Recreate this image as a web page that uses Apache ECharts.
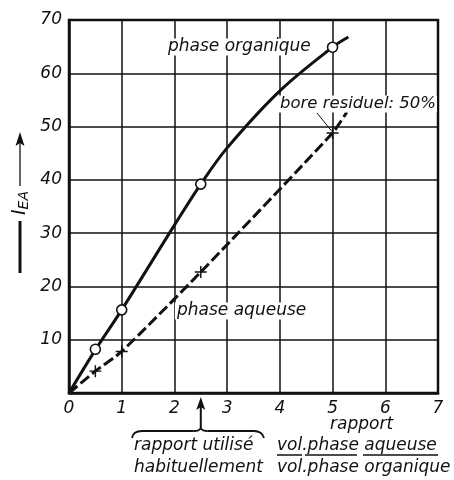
<!DOCTYPE html>
<html><head><meta charset="utf-8">
<script src="https://cdn.jsdelivr.net/npm/echarts@6/dist/echarts.min.js"></script>
<style>html,body{margin:0;padding:0;background:#fff}#c{width:454px;height:480px}</style>
</head><body><div id="c"></div>
<script>
// Data
const xTicks = [0, 1, 2, 3, 4, 5, 6, 7];
const yTicks = [0, 10, 20, 30, 40, 50, 60, 70];
const organiqueCurve = [[0, 0], [0.5, 8.1], [1, 15.6], [2, 31.5], [2.5, 39.2], [3, 46], [4, 56.7], [5, 64.9], [5.3, 66.8]];
const organiquePoints = [[0.5, 8.2], [1, 15.6], [2.5, 39.2], [5, 64.9]];
const aqueuseCurve = [[0, 0], [0.5, 4.1], [1, 7.8], [2.5, 22.7], [5, 48.8], [5.27, 52.7]];
const aqueusePoints = [[0.5, 4.1], [1, 7.8], [2.5, 22.7], [5, 48.8]];
const usualRatio = 2.5;

const FONT = "'DejaVu Sans', sans-serif";
const chart = echarts.init(document.getElementById('c'), null, {renderer: 'canvas'});
const txt = (extra) => Object.assign({fontFamily: FONT, fontStyle: 'italic', fontSize: 17, fill: '#111'}, extra);

chart.setOption({
  animation: false,
  backgroundColor: '#fff',
  grid: {left: 69, top: 20, right: 16, bottom: 87, show: true, borderColor: '#111', borderWidth: 2.5, backgroundColor: 'transparent'},
  xAxis: {
    type: 'value', min: xTicks[0], max: xTicks[xTicks.length - 1], interval: 1,
    axisLine: {show: true, lineStyle: {color: '#111', width: 2.5}},
    axisTick: {show: false},
    splitLine: {show: true, lineStyle: {color: '#111', width: 1.5}},
    axisLabel: {color: '#111', fontFamily: FONT, fontStyle: 'italic', fontSize: 17, margin: 7,
      formatter: v => xTicks.includes(v) ? String(v) : ''}
  },
  yAxis: {
    type: 'value', min: yTicks[0], max: yTicks[yTicks.length - 1], interval: 10,
    axisLine: {show: true, lineStyle: {color: '#111', width: 2.5}},
    axisTick: {show: false},
    splitLine: {show: true, lineStyle: {color: '#111', width: 1.5}},
    axisLabel: {color: '#111', fontFamily: FONT, fontStyle: 'italic', fontSize: 17, margin: 7,
      formatter: v => (v === 0 ? '' : String(v))}
  },
  series: [
    {type: 'line', data: organiqueCurve, smooth: 0.35, symbol: 'none',
      lineStyle: {color: '#111', width: 3}, z: 3},
    {type: 'line', data: aqueuseCurve, smooth: 0.2, symbol: 'none',
      lineStyle: {color: '#111', width: 3, type: [11, 4]}, z: 3},
    {type: 'scatter', data: organiquePoints, symbol: 'circle', symbolSize: 10,
      itemStyle: {color: '#fff', borderColor: '#111', borderWidth: 1.6, opacity: 1}, z: 5},
    {type: 'scatter', data: aqueusePoints, symbol: 'path://M4.4,0h1.2v4.4h4.4v1.2h-4.4v4.4h-1.2v-4.4h-4.4v-1.2h4.4z', symbolSize: 12,
      itemStyle: {color: '#111', opacity: 1}, z: 5}
  ]
});

const P = (x, y) => chart.convertToPixel({gridIndex: 0}, [x, y]);
const arrowX = P(usualRatio, 0)[0];
const plus5 = P(aqueusePoints[3][0], aqueusePoints[3][1]);

const g = [];
// in-plot labels with white background
g.push({type: 'text', x: 166, y: 47, z: 10, style: txt({text: 'phase organique', verticalAlign: 'middle', backgroundColor: '#fff', padding: [0, 2]})});
g.push({type: 'text', x: 279, y: 104, z: 10, style: txt({text: 'bore residuel: 50%', fontSize: 16.5, verticalAlign: 'middle', backgroundColor: '#fff', padding: [0, 1]})});
g.push({type: 'text', x: 175, y: 311, z: 10, style: txt({text: 'phase aqueuse', verticalAlign: 'middle', backgroundColor: '#fff', padding: [0, 2]})});
g.push({type: 'line', z: 11, shape: {x1: 317, y1: 113, x2: plus5[0] - 1, y2: plus5[1] - 2}, style: {stroke: '#111', lineWidth: 1}});

// y-axis title: thick bar, I_EA, arrow
g.push({type: 'line', shape: {x1: 20, y1: 273, x2: 20, y2: 221}, style: {stroke: '#111', lineWidth: 3}});
g.push({type: 'text', x: 20, y: 203, rotation: Math.PI / 2, z: 10,
  style: {text: '{i|I}{s|EA}', align: 'center', verticalAlign: 'middle',
    rich: {i: {fontFamily: FONT, fontStyle: 'italic', fontSize: 19, fill: '#111'},
           s: {fontFamily: FONT, fontStyle: 'italic', fontSize: 14, fill: '#111', verticalAlign: 'bottom', padding: [9, 0, 0, 0]}}}});
g.push({type: 'line', shape: {x1: 20, y1: 186, x2: 20, y2: 140}, style: {stroke: '#111', lineWidth: 1.3}});
g.push({type: 'polygon', shape: {points: [[20, 132], [15.5, 146], [20, 143], [24.5, 146]]}, style: {fill: '#111'}});

// arrow at usual ratio
g.push({type: 'line', shape: {x1: arrowX, y1: 429, x2: arrowX, y2: 404}, style: {stroke: '#111', lineWidth: 2}});
g.push({type: 'polygon', shape: {points: [[arrowX, 397], [arrowX - 4.5, 410], [arrowX, 407], [arrowX + 4.5, 410]]}, style: {fill: '#111'}});
// brace
const bs = {stroke: '#111', lineWidth: 1.8, fill: null};
g.push({type: 'bezierCurve', shape: {x1: 132, y1: 438, cpx1: 133, cpy1: 431, x2: 142, y2: 431}, style: bs});
g.push({type: 'line', shape: {x1: 142, y1: 431, x2: arrowX - 7, y2: 431}, style: bs});
g.push({type: 'bezierCurve', shape: {x1: arrowX - 7, y1: 431, cpx1: arrowX - 1, cpy1: 431, x2: arrowX, y2: 428}, style: bs});
g.push({type: 'bezierCurve', shape: {x1: arrowX, y1: 428, cpx1: arrowX + 1, cpy1: 431, x2: arrowX + 7, y2: 431}, style: bs});
g.push({type: 'line', shape: {x1: arrowX + 7, y1: 431, x2: 254, y2: 431}, style: bs});
g.push({type: 'bezierCurve', shape: {x1: 254, y1: 431, cpx1: 262, cpy1: 431, x2: 264, y2: 438}, style: bs});
g.push({type: 'text', x: 134, y: 446, style: txt({text: 'rapport utilisé', verticalAlign: 'middle'})});
g.push({type: 'text', x: 134, y: 468, style: txt({text: 'habituellement', verticalAlign: 'middle'})});

// ratio definition
g.push({type: 'text', x: 330, y: 425, style: txt({text: 'rapport', verticalAlign: 'middle'})});
g.push({type: 'text', x: 277, y: 446, style: txt({text: 'vol.phase aqueuse', verticalAlign: 'middle'})});
g.push({type: 'text', x: 277, y: 468, style: txt({text: 'vol.phase organique', verticalAlign: 'middle'})});
[[277, 302], [305, 357], [363, 438]].forEach(([a, b]) =>
  g.push({type: 'line', shape: {x1: a, y1: 455, x2: b, y2: 455}, style: {stroke: '#111', lineWidth: 1.5}}));

chart.setOption({graphic: g});
</script></body></html>
